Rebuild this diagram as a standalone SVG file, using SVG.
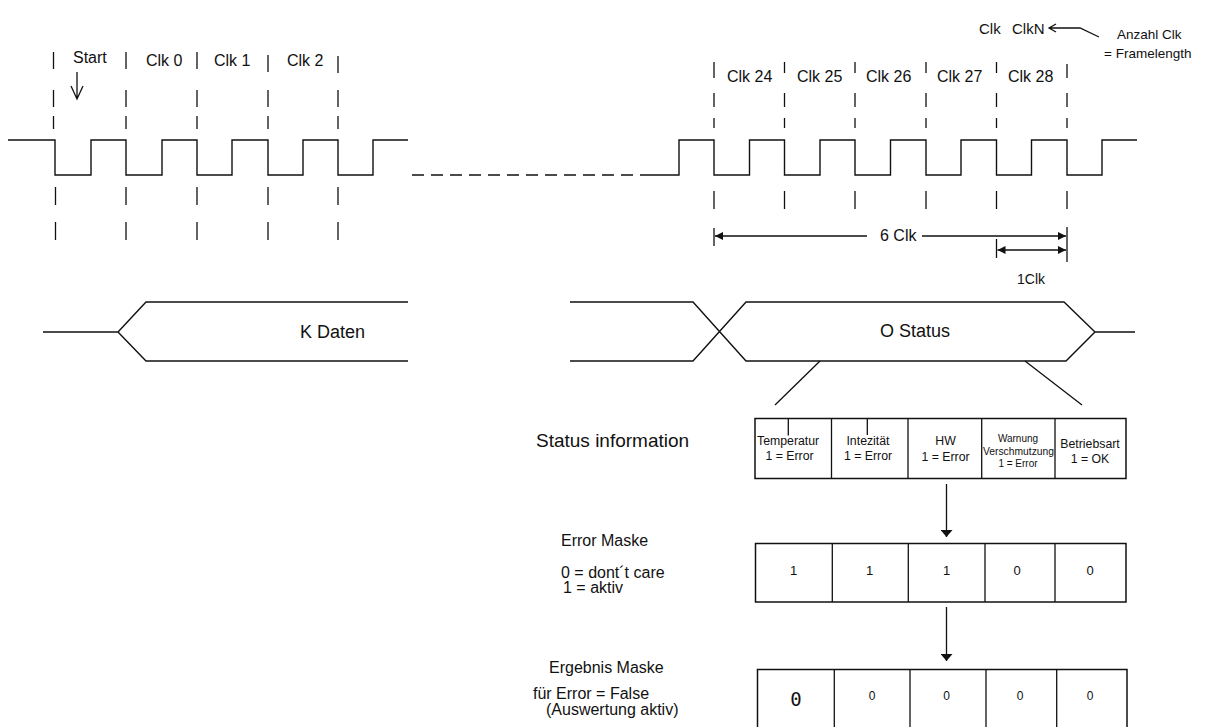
<svg xmlns="http://www.w3.org/2000/svg" width="1206" height="727" viewBox="0 0 1206 727">
<style>
.w{fill:none;stroke:#111;stroke-width:1.4}
.d{fill:none;stroke:#111;stroke-width:1.3}
.t{font-family:"Liberation Sans",Arial,sans-serif;fill:#111}
.c{text-anchor:middle}
.box{fill:#fff;stroke:#111;stroke-width:1.5}
</style>
<defs>
<marker id="ah" viewBox="0 0 8 8" refX="8" refY="4" markerWidth="8" markerHeight="8" orient="auto-start-reverse" markerUnits="userSpaceOnUse"><path d="M0,0 L8,4 L0,8 z" fill="#111"/></marker>
<marker id="ahd" viewBox="0 0 7 12" refX="7" refY="6" markerWidth="7" markerHeight="12" orient="auto" markerUnits="userSpaceOnUse"><path d="M0,0 L7,6 L0,12 z" fill="#111"/></marker>
</defs>
<rect width="1206" height="727" fill="#fff"/>

<g id="clock-left">
<path class="w" d="M8,140 H55 V175 H91 V140 H126 V175 H162 V140 H197 V175 H232 V140 H268 V175 H303 V140 H338 V175 H373 V140 H408"/>
</g>
<g id="clock-gap">
<path class="w" d="M412,175 H640" stroke-dasharray="12 7"/>
</g>
<g id="clock-right">
<path class="w" d="M640,175 H679 V140 H714 V175 H749.5 V140 H784.5 V175 H820 V140 H855 V175 H890.5 V140 H926 V175 H961 V140 H996.5 V175 H1031.5 V140 H1067 V175 H1102 V140 H1137"/>
</g>

<g id="markers-left">
<path class="d" d="M53.5,52 V69 M53.5,90 V107 M53.5,116 V129 M55.5,187 V205 M55.5,222 V240"/>
<path class="d" d="M126,52 V69 M126,90 V107 M126,116 V129 M126,187 V205 M126,222 V240"/>
<path class="d" d="M197,52 V69 M197,90 V107 M197,116 V129 M197,187 V205 M197,222 V240"/>
<path class="d" d="M268,55 V72 M268,90 V107 M268,116 V129 M268,187 V205 M268,222 V240"/>
<path class="d" d="M338,56 V73 M338,90 V107 M338,116 V129 M338,187 V205 M338,222 V240"/>
</g>
<g id="markers-right">
<path class="d" d="M714,62 V78 M714,93 V107 M714,118 V128 M714,191 V209"/>
<path class="d" d="M784.5,62 V73 M784.5,93 V107 M784.5,118 V128 M784.5,191 V209"/>
<path class="d" d="M855,62 V73 M855,93 V107 M855,118 V128 M855,191 V209"/>
<path class="d" d="M926,62 V73 M926,93 V107 M926,118 V128 M926,191 V209"/>
<path class="d" d="M996.5,62 V73 M996.5,93 V107 M996.5,118 V128 M996.5,191 V209"/>
<path class="d" d="M1067,64 V78 M1067,93 V107 M1067,118 V128 M1067,191 V209"/>
</g>

<g id="labels-left">
<text class="t" x="73" y="63" font-size="16">Start</text>
<text class="t" x="146" y="66" font-size="16">Clk 0</text>
<text class="t" x="214" y="66" font-size="16">Clk 1</text>
<text class="t" x="287" y="66" font-size="16">Clk 2</text>
<path class="d" d="M77,72 V99 M71,86 L77,99 L83,86"/>
</g>
<g id="labels-right">
<text class="t" x="727" y="82" font-size="16">Clk 24</text>
<text class="t" x="797" y="82" font-size="16">Clk 25</text>
<text class="t" x="866" y="82" font-size="16">Clk 26</text>
<text class="t" x="937" y="82" font-size="16">Clk 27</text>
<text class="t" x="1008" y="82" font-size="16">Clk 28</text>
</g>
<g id="clkn-note">
<text class="t" x="979" y="34" font-size="15">Clk</text>
<text class="t" x="1012" y="34" font-size="15">ClkN</text>
<path class="d" d="M1049,28 H1080 L1099,37 M1056,24 L1049,28 L1056,32"/>
<text class="t" x="1117" y="39" font-size="13.5">Anzahl Clk</text>
<text class="t" x="1104" y="58" font-size="13.5">= Framelength</text>
</g>

<g id="connectors">
<path class="d" d="M714,228 V246 M1067,227 V262 M996.5,239 V258"/>
<path class="d" d="M867,236 H715" marker-end="url(#ah)"/>
<path class="d" d="M922,236 H1066" marker-end="url(#ah)"/>
<path class="d" d="M997.5,250 H1066" marker-start="url(#ah)" marker-end="url(#ah)"/>
<path class="d" d="M820,361 L775,405 M1025,361 L1082,405"/>
<path class="d" d="M946.5,484 V537" marker-end="url(#ahd)"/>
<path class="d" d="M946.5,607 V661" marker-end="url(#ahd)"/>
</g>
<text class="t" x="880" y="241" font-size="16">6 Clk</text>
<text class="t" x="1017" y="284" font-size="14">1Clk</text>

<g id="bus-k-daten">
<path class="w" d="M43,332 H118 L146,302 H408 M118,332 L146,361 H408"/>
<text class="t" x="300" y="338" font-size="18">K Daten</text>
</g>
<g id="bus-o-status">
<path class="w" d="M570,302 H693 L746,361 H1066 L1095,332 H1135 M570,361 H693 L746,302 H1064 L1095,332"/>
<text class="t" x="880" y="337" font-size="18">O Status</text>
</g>

<g id="status-information">
<text class="t" x="536" y="447" font-size="19">Status information</text>
<rect class="box" x="755" y="418.5" width="371" height="60"/>
<path class="d" d="M831.5,418.5 V478.5 M908,418.5 V478.5 M981.7,418.5 V478.5 M1055,418.5 V478.5 M788.3,418.5 V435.5 M867.3,418.5 V435"/>
<text class="t" x="757" y="444.5" font-size="12.3">Temperatur</text>
<text class="t c" x="789.5" y="459.5" font-size="12.3">1 = Error</text>
<text class="t c" x="868" y="444.5" font-size="12.3">Intezität</text>
<text class="t c" x="868" y="459.5" font-size="12.3">1 = Error</text>
<text class="t c" x="945.5" y="445" font-size="12.3">HW</text>
<text class="t c" x="945.5" y="460.5" font-size="12.3">1 = Error</text>
<text class="t c" x="1018" y="442" font-size="10">Warnung</text>
<text class="t c" x="1018.5" y="455" font-size="10.3">Verschmutzung</text>
<text class="t c" x="1018" y="467" font-size="10">1 = Error</text>
<text class="t c" x="1090" y="448" font-size="12.3">Betriebsart</text>
<text class="t c" x="1090" y="463" font-size="12.3">1 = OK</text>
</g>

<g id="error-maske">
<text class="t" x="561" y="546" font-size="16">Error Maske</text>
<text class="t" x="561" y="578" font-size="16">0 = dont´t care</text>
<text class="t" x="563" y="593" font-size="16">1 = aktiv</text>
<rect class="box" x="755.5" y="543.5" width="370.5" height="58.5"/>
<path class="d" d="M832.3,543.5 V602 M908.3,543.5 V602 M985,543.5 V602 M1055,543.5 V602"/>
<text class="t c" x="793.5" y="575" font-size="13">1</text>
<text class="t c" x="869.5" y="575" font-size="13">1</text>
<text class="t c" x="946.5" y="575" font-size="13">1</text>
<text class="t c" x="1017" y="575" font-size="13">0</text>
<text class="t c" x="1090" y="575" font-size="13">0</text>
</g>

<g id="ergebnis-maske">
<text class="t" x="549" y="673" font-size="16">Ergebnis Maske</text>
<text class="t" x="533" y="699" font-size="16">für Error = False</text>
<text class="t" x="546" y="715" font-size="16">(Auswertung aktiv)</text>
<rect class="box" x="757.5" y="669.5" width="369.5" height="80"/>
<path class="d" d="M834.3,669.5 V740 M910,669.5 V740 M986,669.5 V740 M1056.7,669.5 V740"/>
<text class="c" x="796" y="706" font-size="19" font-family="'DejaVu Sans Mono',monospace" fill="#111">0</text>
<text class="t c" x="872" y="700" font-size="12">0</text>
<text class="t c" x="946.5" y="700" font-size="12">0</text>
<text class="t c" x="1020" y="700" font-size="12">0</text>
<text class="t c" x="1090" y="700" font-size="12">0</text>
</g>
</svg>
